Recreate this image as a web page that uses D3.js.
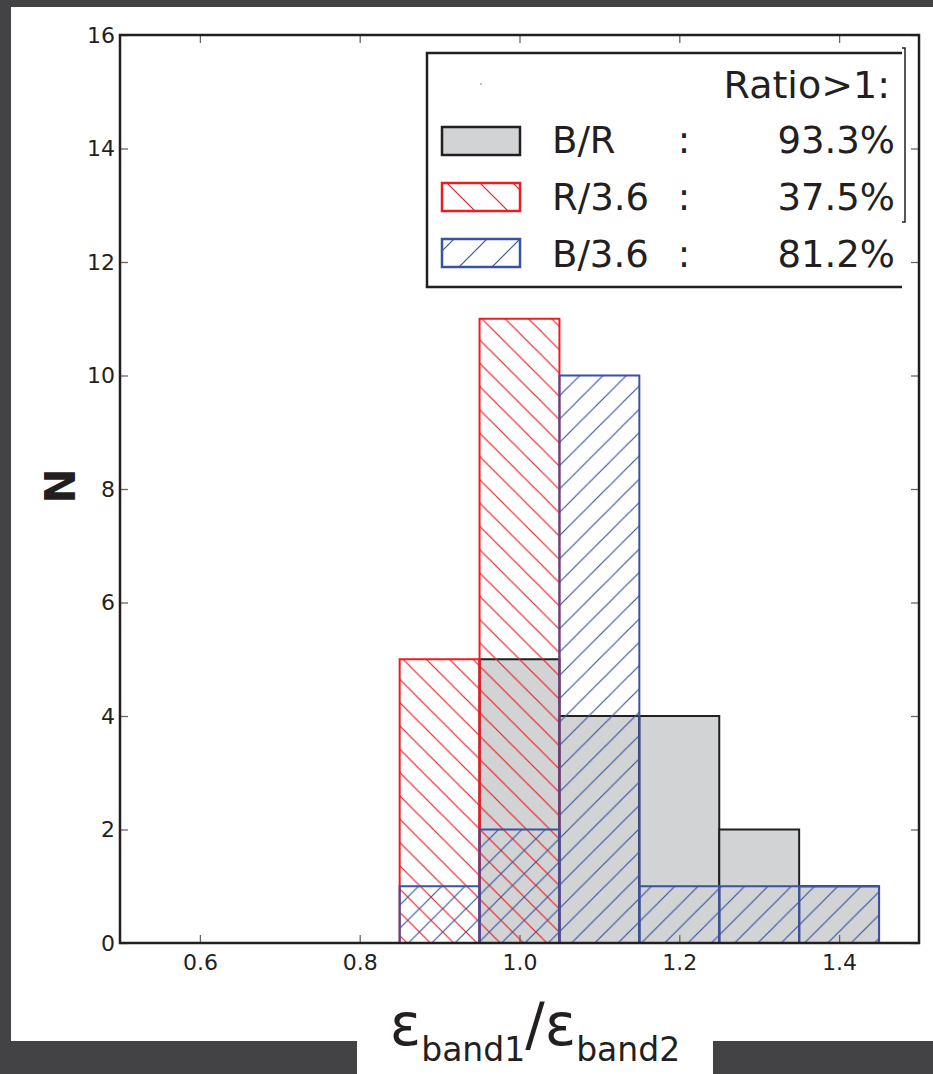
<!DOCTYPE html>
<html>
<head>
<meta charset="utf-8">
<script src="https://cdn.jsdelivr.net/npm/d3@7"></script>
<style>
    body { margin: 0; background: #434345; }
    svg { display: block; }
    text { font-family: "DejaVu Sans", sans-serif; fill: #231f20; }
</style>
</head>
<body>
<div id="chart"></div>
<script>
    // bin centres of the histogram (width 0.1)
    var binCenters = [0.9, 1.0, 1.1, 1.2, 1.3, 1.4];
    var binWidth = 0.1;
    var countsBR = [0, 5, 4, 4, 2, 1];
    var countsR36 = [5, 11, 0, 0, 0, 0];
    var countsB36 = [1, 2, 10, 1, 1, 1];
    var xTicks = [0.6, 0.8, 1.0, 1.2, 1.4];
    var yTicks = [0, 2, 4, 6, 8, 10, 12, 14, 16];
    var legendNames = ["B/R", "R/3.6", "B/3.6"];
    var legendRatios = ["93.3%", "37.5%", "81.2%"];

    (function () {
        'use strict';

        var W = 933, H = 1074;
        var left = 120, right = 919, top = 35, bottom = 943;
        var ink = "#231f20";
        var red = "#ed1c24", blue = "#3953a4", grey = "#d1d3d4";

        var svg = d3.select("#chart").append("svg")
            .attr("width", W)
            .attr("height", H);

        // white page on the dark background
        svg.append("rect").attr("x", 11).attr("y", 7).attr("width", W - 11).attr("height", 1034).attr("fill", "#fff");
        svg.append("rect").attr("x", 357).attr("y", 1040).attr("width", 356).attr("height", H - 1040).attr("fill", "#fff");

        var defs = svg.append("defs");
        function hatch(id, size, color, dir) {
            var p = defs.append("pattern")
                .attr("id", id)
                .attr("patternUnits", "userSpaceOnUse")
                .attr("width", size)
                .attr("height", size);
            var s = size;
            var d = dir === "back"
                ? "M-2," + (s - 2) + "l4,4 M0,0 L" + s + "," + s + " M" + (s - 2) + ",-2 l4,4"
                : "M-2,2 l4,-4 M0," + s + " L" + s + ",0 M" + (s - 2) + "," + (s + 2) + " l4,-4";
            p.append("path").attr("d", d).attr("stroke", color).attr("stroke-width", 1.2).attr("fill", "none");
        }
        hatch("hatchRed", 23.3, red, "back");
        hatch("hatchBlue", 23.3, blue, "fwd");
        hatch("hatchRedLeg", 33, red, "back");
        hatch("hatchBlueLeg", 33, blue, "fwd");

        var x = d3.scaleLinear().domain([0.5, 1.5]).range([left, right]);
        var y = d3.scaleLinear().domain([0, 16]).range([bottom, top]);

        function drawBars(counts, fill, stroke, cls) {
            var data = binCenters.map(function (c, i) { return { c: c, n: counts[i] }; })
                .filter(function (d) { return d.n > 0; });
            svg.append("g").selectAll("rect." + cls)
                .data(data)
                .enter().append("rect")
                .attr("class", cls)
                .attr("x", function (d) { return x(d.c - binWidth / 2); })
                .attr("width", function (d) { return x(d.c + binWidth / 2) - x(d.c - binWidth / 2); })
                .attr("y", function (d) { return y(d.n); })
                .attr("height", function (d) { return y(0) - y(d.n); })
                .attr("fill", fill)
                .attr("stroke", stroke)
                .attr("stroke-width", 2);
        }
        drawBars(countsBR, grey, ink, "br");
        drawBars(countsR36, "url(#hatchRed)", red, "r36");
        drawBars(countsB36, "url(#hatchBlue)", blue, "b36");

        // axes, matplotlib style ticks pointing inward
        var tickLen = 8;
        var xb = svg.append("g").attr("transform", "translate(0," + bottom + ")")
            .call(d3.axisBottom(x).tickValues(xTicks).tickSizeInner(-tickLen).tickSizeOuter(0).tickFormat(d3.format(".1f")));
        var xt = svg.append("g").attr("transform", "translate(0," + top + ")")
            .call(d3.axisTop(x).tickValues(xTicks).tickSizeInner(-tickLen).tickSizeOuter(0).tickFormat(""));
        var yl = svg.append("g").attr("transform", "translate(" + left + ",0)")
            .call(d3.axisLeft(y).tickValues(yTicks).tickSizeInner(-tickLen).tickSizeOuter(0).tickPadding(5));
        var yr = svg.append("g").attr("transform", "translate(" + right + ",0)")
            .call(d3.axisRight(y).tickValues(yTicks).tickSizeInner(-tickLen).tickSizeOuter(0).tickFormat(""));

        [xb, xt, yl, yr].forEach(function (g) {
            g.select(".domain").remove();
            g.selectAll(".tick line").attr("stroke", "#666").attr("stroke-width", 1.3);
            g.selectAll(".tick text")
                .attr("font-family", "DejaVu Sans")
                .attr("font-size", 22)
                .attr("fill", ink);
        });
        xb.selectAll(".tick text").attr("dy", "0.71em").attr("y", 11);

        svg.append("rect")
            .attr("x", left).attr("y", top)
            .attr("width", right - left).attr("height", bottom - top)
            .attr("fill", "none").attr("stroke", ink).attr("stroke-width", 2.5);

        // legend
        var leg = svg.append("g");
        leg.append("path")
            .attr("d", "M902,53 H427 V287 H902")
            .attr("fill", "#fff").attr("stroke", ink).attr("stroke-width", 2.5);
        leg.append("path")
            .attr("d", "M902,48 H905 V222 H902")
            .attr("fill", "none").attr("stroke", ink).attr("stroke-width", 1.5);
        leg.append("circle").attr("cx", 481).attr("cy", 84).attr("r", 0.7).attr("fill", blue);
        leg.append("text")
            .attr("x", 890).attr("y", 98)
            .attr("text-anchor", "end").attr("font-size", 38)
            .text("Ratio>1:");

        var patchFill = [grey, "url(#hatchRedLeg)", "url(#hatchBlueLeg)"];
        var patchStroke = [ink, red, blue];
        var rowY = [127, 183, 239];
        var baseY = [153, 210, 267];
        legendNames.forEach(function (name, i) {
            leg.append("rect")
                .attr("x", 442).attr("y", rowY[i])
                .attr("width", 78).attr("height", 28)
                .attr("fill", patchFill[i]).attr("stroke", patchStroke[i]).attr("stroke-width", 2.5);
            leg.append("text").attr("x", 552).attr("y", baseY[i]).attr("font-size", 37).text(name);
            leg.append("text").attr("x", 684).attr("y", baseY[i]).attr("font-size", 37).attr("text-anchor", "middle").text(":");
            leg.append("text").attr("x", 895).attr("y", baseY[i]).attr("font-size", 37).attr("text-anchor", "end").text(legendRatios[i]);
        });

        // axis labels
        svg.append("text")
            .attr("transform", "translate(60,486) rotate(-90)")
            .attr("text-anchor", "middle")
            .attr("dominant-baseline", "central")
            .attr("font-family", "Liberation Sans")
            .attr("font-weight", "bold")
            .attr("font-size", 42)
            .text("N");

        var xl = svg.append("text")
            .attr("x", 535).attr("y", 1045)
            .attr("text-anchor", "middle")
            .attr("font-size", 58);
        xl.append("tspan").text("ε");
        xl.append("tspan").attr("font-size", 33).attr("dy", 16).text("band1");
        xl.append("tspan").attr("dy", -16).text("/");
        xl.append("tspan").text("ε");
        xl.append("tspan").attr("font-size", 33).attr("dy", 16).text("band2");
    })();
</script>
</body>
</html>
